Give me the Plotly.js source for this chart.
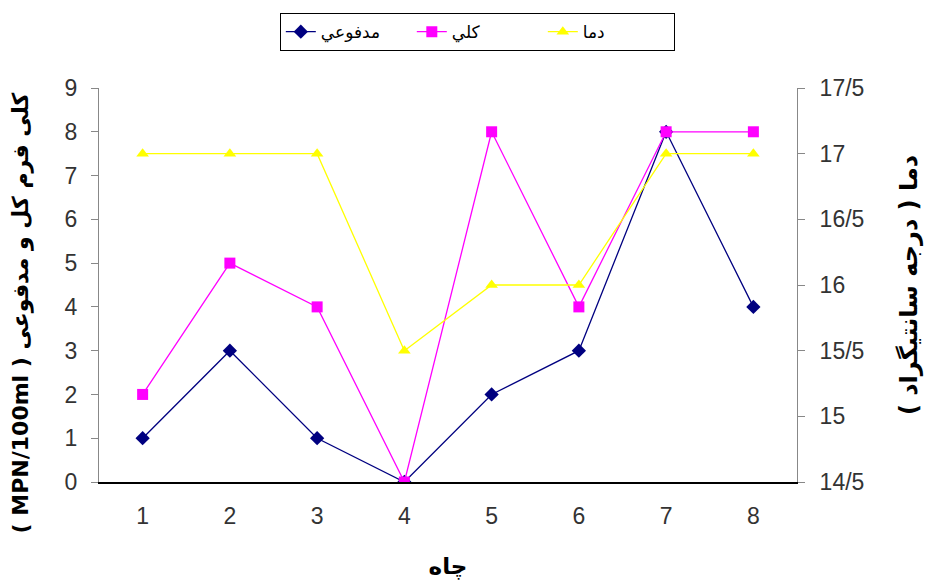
<!DOCTYPE html>
<html>
<head>
<meta charset="utf-8">
<script src="https://cdn.plot.ly/plotly-3.0.1.min.js"></script>
<style>
  html, body { margin: 0; padding: 0; background: #fff; }
  #chart { width: 930px; height: 585px; }
</style>
</head>
<body>
<div id="chart"></div>
<script>
// Wells (چاه) 1–8
const wells = ['1', '2', '3', '4', '5', '6', '7', '8'];

// Coliform counts, MPN/100ml
const fecalColiform = [1, 3, 1, 0, 2, 3, 8, 4];   // مدفوعي
const totalColiform = [2, 5, 4, 0, 8, 4, 8, 8];   // کلي

// Water temperature, °C
const temperature = [17, 17, 17, 15.5, 16, 16, 17, 17];   // دما

// Right-axis tick labels use the Persian decimal slash
const tempTickVals = [14.5, 15, 15.5, 16, 16.5, 17, 17.5];
const tempTickText = ['14/5', '15', '15/5', '16', '16/5', '17', '17/5'];

const FONT = 'Liberation Sans, Arial, DejaVu Sans, sans-serif';
const AR_FONT = 'DejaVu Sans, sans-serif';

const traces = [
  {
    x: wells, y: fecalColiform, name: 'مدفوعي', type: 'scatter', mode: 'lines+markers',
    line: { color: '#000080', width: 1.3 },
    marker: { symbol: 'diamond', size: 11, color: '#000080' }
  },
  {
    x: wells, y: totalColiform, name: 'کلي', type: 'scatter', mode: 'lines+markers',
    line: { color: '#FF00FF', width: 1.3 },
    marker: { symbol: 'square', size: 11, color: '#FF00FF' }
  },
  {
    x: wells, y: temperature, name: 'دما', type: 'scatter', mode: 'lines+markers',
    yaxis: 'y2',
    line: { color: '#FFFF00', width: 1.3 },
    marker: { symbol: 'triangle-up', size: 11, color: '#FFFF00' }
  }
];

const layout = {
  width: 930, height: 585,
  margin: { l: 99, r: 133, t: 88, b: 103 },
  paper_bgcolor: '#fff', plot_bgcolor: '#fff',
  font: { family: FONT, size: 23, color: '#333' },
  showlegend: true,
  legend: {
    orientation: 'h',
    x: 0.542, xanchor: 'center',
    y: 1.19, yanchor: 'top',
    bordercolor: '#000', borderwidth: 1,
    bgcolor: '#fff',
    font: { family: AR_FONT, size: 17, color: '#000' },
    entrywidth: 86,
    tracegroupgap: 0
  },
  xaxis: {
    type: 'category',
    range: [-0.5, 7.5],
    showgrid: false, zeroline: false,
    showline: true, linecolor: '#000', linewidth: 2,
    ticks: '', ticklen: 0,
    ticklabelstandoff: 12,
    tickfont: { family: FONT, size: 23, color: '#333' },
    title: {
      text: '<b>چاه</b>',
      font: { family: AR_FONT, size: 23, color: '#000' },
      standoff: 30
    }
  },
  yaxis: {
    range: [0, 9],
    dtick: 1,
    showgrid: false, zeroline: false,
    showline: true, linecolor: '#888', linewidth: 1,
    ticks: 'outside', ticklen: 7, tickcolor: '#888',
    ticklabelstandoff: 9,
    tickfont: { family: FONT, size: 23, color: '#333' }
  },
  yaxis2: {
    overlaying: 'y', side: 'right',
    range: [14.5, 17.5],
    tickvals: tempTickVals, ticktext: tempTickText,
    showgrid: false, zeroline: false,
    showline: true, linecolor: '#888', linewidth: 1,
    ticks: 'outside', ticklen: 7, tickcolor: '#888',
    ticklabelstandoff: 10,
    tickfont: { family: FONT, size: 23, color: '#333' },
    title: {
      text: '<b>دما ( درجه سانتیگراد )\u200F</b>',
      font: { family: AR_FONT, size: 24, color: '#000' },
      standoff: 36
    }
  },
  // Left axis title, set slightly below the vertical centre of the plot
  annotations: [{
    xref: 'paper', yref: 'paper',
    x: -0.112, y: 0.43,
    xanchor: 'center', yanchor: 'middle',
    textangle: -90,
    showarrow: false,
    text: '<b>( MPN/100ml ) کلی فرم کل و مدفوعی</b>',
    font: { family: AR_FONT, size: 22, color: '#000' }
  }]
};

Plotly.newPlot('chart', traces, layout, { displayModeBar: false, staticPlot: true });
</script>
</body>
</html>
